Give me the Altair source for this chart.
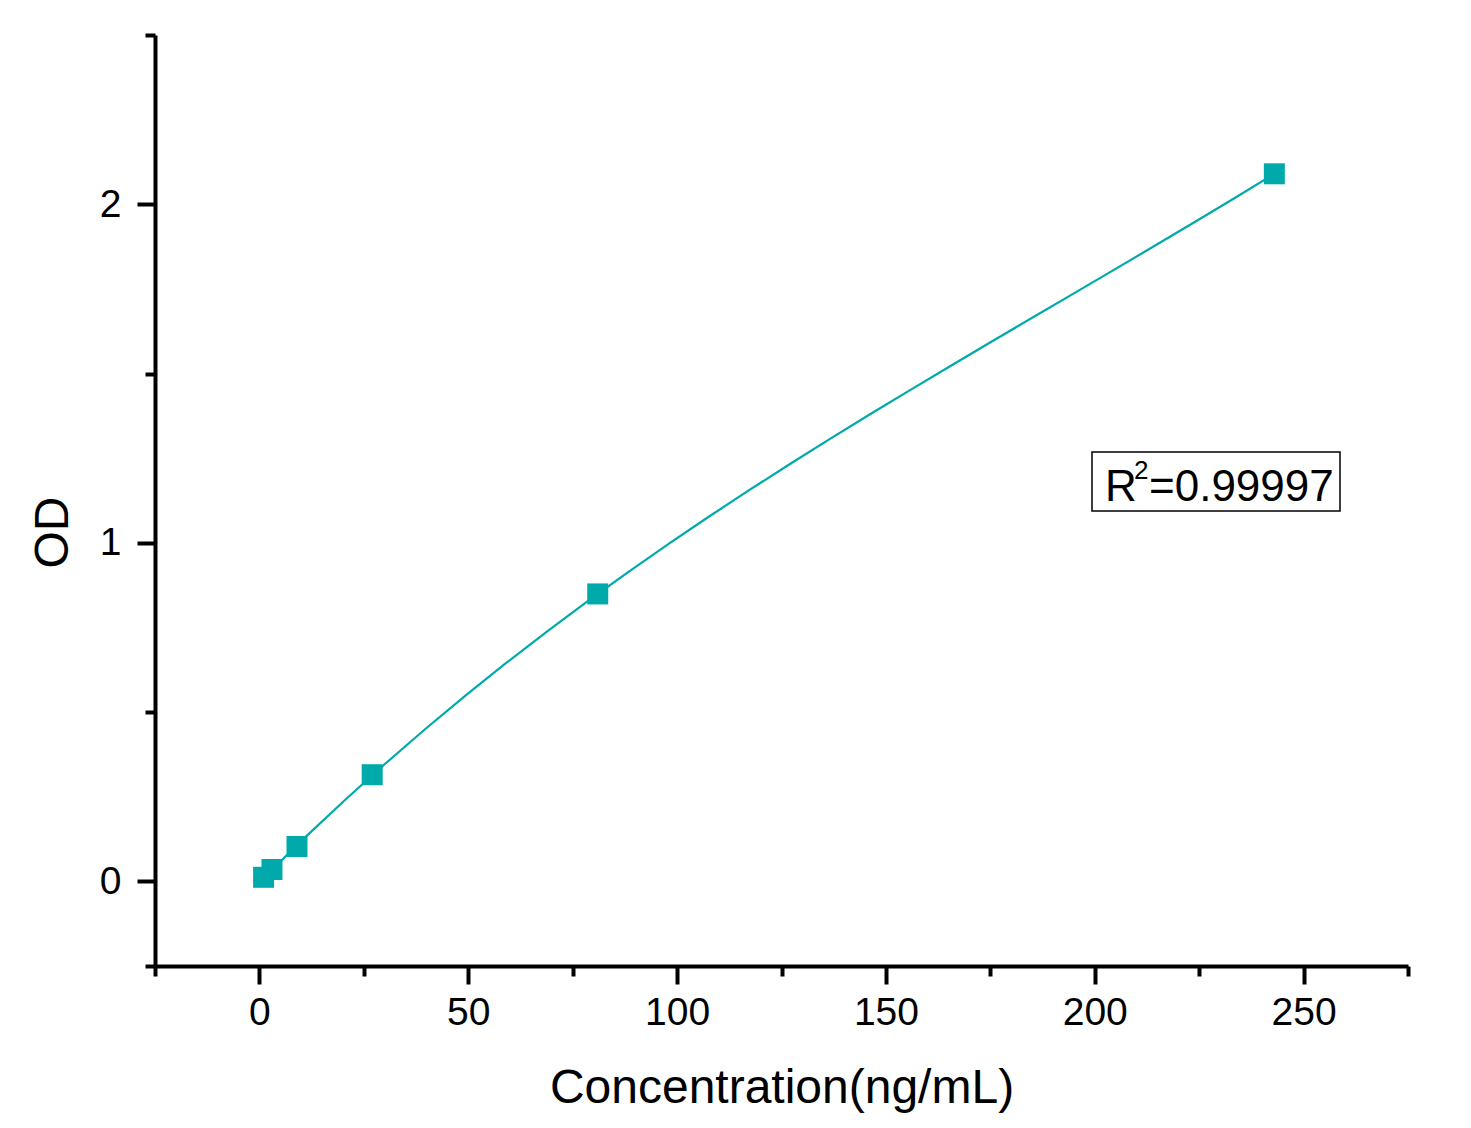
import altair as alt
import pandas as pd

# Data
conc = [1, 3, 9, 27, 81, 243]
od = [0.012, 0.035, 0.103, 0.315, 0.849, 2.09]

x_major = [0, 50, 100, 150, 200, 250]
x_minor = [-25, 25, 75, 125, 175, 225, 275]
y_major = [0, 1, 2]
y_minor = [-0.25, 0.5, 1.5, 2.5]
r2_parts = ["R", "2", "=0.99997"]

df = pd.DataFrame({"conc": conc, "od": od})

FONT = "Liberation Sans"
TEAL = "#00AAAA"

xscale = alt.Scale(domain=[-25, 275], nice=False, zero=False)
yscale = alt.Scale(domain=[-0.25, 2.5], nice=False, zero=False)

base = alt.Chart(df)

points = base.mark_point(shape="square", filled=True, size=441, opacity=1, color=TEAL).encode(
    x=alt.X("conc:Q", scale=xscale, axis=alt.Axis(
        values=x_major, orient="bottom", title="Concentration(ng/mL)",
        grid=False, domainColor="black", domainWidth=4, tickColor="black",
        tickWidth=4, tickSize=18, labelFont=FONT, labelFontSize=39,
        labelColor="black", labelPadding=9, titleFont=FONT, titleFontSize=48,
        titleFontWeight="normal", titleColor="black", titlePadding=32,
        labelFlush=False)),
    y=alt.Y("od:Q", scale=yscale, axis=alt.Axis(
        values=y_major, orient="left", title="OD", grid=False,
        domainColor="black", domainWidth=4, tickColor="black", tickWidth=4,
        tickSize=18, labelFont=FONT, labelFontSize=39, labelColor="black",
        labelPadding=16, titleFont=FONT, titleFontSize=48,
        titleFontWeight="normal", titleColor="black", titlePadding=22,
        titleY=497, labelFlush=False)),
)

curve = base.transform_regression(
    "conc", "od", method="poly", order=3, extent=[1, 243]
).mark_line(color=TEAL, strokeWidth=2.2).encode(
    x=alt.X("conc:Q", scale=xscale, axis=None),
    y=alt.Y("od:Q", scale=yscale, axis=None),
)

minor = base.mark_point(opacity=0).encode(
    x=alt.X("conc:Q", scale=xscale, axis=alt.Axis(
        values=x_minor, orient="bottom", title=None, labels=False,
        domain=False, grid=False, tickColor="black", tickWidth=4, tickSize=10)),
    y=alt.Y("od:Q", scale=yscale, axis=alt.Axis(
        values=y_minor, orient="left", title=None, labels=False,
        domain=False, grid=False, tickColor="black", tickWidth=4, tickSize=10)),
)

box = alt.Chart(pd.DataFrame({"label": ["".join(r2_parts)]})).mark_rect(
    fill="white", stroke="black", strokeWidth=1.5
).encode(
    x=alt.value(937), x2=alt.value(1185), y=alt.value(417), y2=alt.value(476)
)

r_text = alt.Chart(pd.DataFrame({"label": [r2_parts[0]]})).mark_text(
    align="left", baseline="alphabetic", font=FONT, fontSize=44, color="black"
).encode(x=alt.value(950), y=alt.value(466), text="label:N")

sup_text = alt.Chart(pd.DataFrame({"label": [r2_parts[1]]})).mark_text(
    align="left", baseline="alphabetic", font=FONT, fontSize=26, color="black"
).encode(x=alt.value(979), y=alt.value(444), text="label:N")

val_text = alt.Chart(pd.DataFrame({"label": [r2_parts[2]]})).mark_text(
    align="left", baseline="alphabetic", font=FONT, fontSize=44, color="black"
).encode(x=alt.value(994), y=alt.value(466), text="label:N")

chart = alt.layer(minor, curve, points, box, r_text, sup_text, val_text).resolve_axis(
    x="independent", y="independent"
).properties(
    width=1253, height=931,
    background="white",
    autosize=alt.AutoSizeParams(type="none"),
    padding={"left": 147, "top": 27, "right": 55, "bottom": 154},
).configure_view(stroke=None, strokeWidth=0)

chart.save("out.html", embed_options={"renderer": "svg", "actions": False})
